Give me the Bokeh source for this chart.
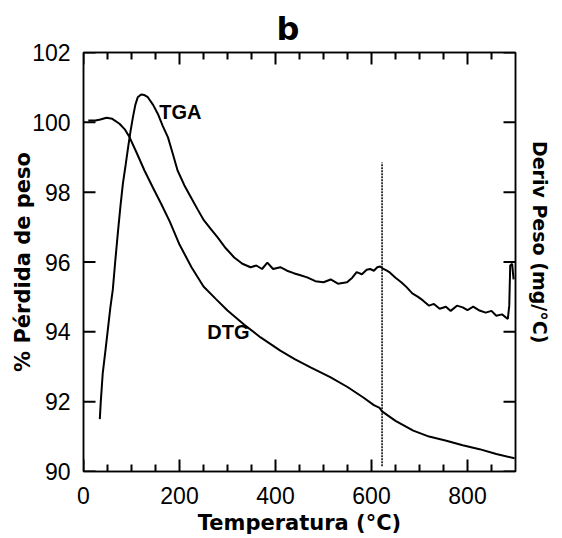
from bokeh.plotting import figure
from bokeh.models import (Range1d, LinearAxis, FixedTicker, Label, Title,
                          CustomJSTickFormatter)
from bokeh.embed import file_html
from bokeh.resources import INLINE

# ---- data ----
tga_x = [34, 36, 40, 46, 51, 56, 61, 66, 72, 77, 82, 88, 93, 98, 103, 108, 113,
         120, 127, 134, 145, 155, 165, 176, 186, 196, 210, 224, 238, 251, 265,
         279, 296, 314, 331, 348, 360, 372, 383, 395, 410, 424, 438, 452, 466,
         483, 500, 515, 530, 549, 560, 569, 580, 590, 597, 605, 612, 618, 625,
         632, 638, 650, 662, 673, 685, 697, 707, 720, 730, 742, 755, 765, 778,
         790, 800, 812, 825, 838, 850, 860, 872, 884, 887, 889, 893, 896]
tga_y = [91.5, 92.0, 92.8, 93.5, 94.1, 94.7, 95.2, 96.0, 96.9, 97.6, 98.24,
         98.8, 99.29, 99.75, 100.15, 100.5, 100.72, 100.8, 100.78, 100.72,
         100.5, 100.24, 99.9, 99.57, 99.1, 98.62, 98.2, 97.85, 97.5, 97.19,
         96.95, 96.71, 96.4, 96.13, 95.95, 95.85, 95.9, 95.8, 95.98, 95.8,
         95.85, 95.75, 95.68, 95.62, 95.56, 95.45, 95.42, 95.5, 95.38, 95.42,
         95.55, 95.71, 95.65, 95.78, 95.8, 95.75, 95.85, 95.87, 95.8, 95.75,
         95.7, 95.55, 95.42, 95.28, 95.1, 95.0, 94.9, 94.75, 94.8, 94.66,
         94.72, 94.6, 94.75, 94.7, 94.62, 94.72, 94.61, 94.55, 94.6, 94.46,
         94.5, 94.37, 94.75, 95.9, 95.95, 95.5]

dtg_x = [10, 25, 35, 48, 60, 75, 86, 96, 110, 127, 145, 162, 180, 200, 225,
         250, 275, 300, 335, 369, 410, 440, 473, 514, 550, 583, 605, 617, 622,
         650, 687, 720, 756, 790, 825, 860, 898]
dtg_y = [100.05, 100.05, 100.08, 100.13, 100.1, 99.96, 99.8, 99.57, 99.15,
         98.62, 98.12, 97.66, 97.15, 96.5, 95.85, 95.3, 94.95, 94.61, 94.2,
         93.84, 93.46, 93.22, 92.98, 92.7, 92.42, 92.12, 91.9, 91.82, 91.72,
         91.45, 91.17, 91.0, 90.88, 90.75, 90.64, 90.5, 90.38]

marker_x = [622, 622]
marker_y = [90.15, 98.85]

x_ticks = [0, 200, 400, 600, 800]
x_minor = [50, 100, 150, 250, 300, 350, 450, 500, 550, 650, 700, 750, 850]
y_ticks = [90, 92, 94, 96, 98, 100, 102]

FONT = "Liberation Sans"
BFONT = "DejaVu Sans"

X0, X1, Y0, Y1 = 0, 900, 90, 102
FW, FH = 432, 419

p = figure(frame_width=FW, frame_height=FH,
           min_border_left=83, min_border_right=45,
           min_border_top=52, min_border_bottom=65,
           x_range=Range1d(X0, X1), y_range=Range1d(Y0, Y1),
           output_backend="svg", toolbar_location=None,
           x_axis_location=None, y_axis_location=None)
p.grid.visible = False
p.outline_line_color = "black"
p.outline_line_width = 1.5
p.background_fill_color = "white"
p.border_fill_color = "white"

def style(ax, labels=True):
    ax.axis_line_width = 1.5
    ax.axis_line_color = "black"
    ax.major_tick_in = 0
    ax.major_tick_out = 0
    ax.minor_tick_in = 0
    ax.minor_tick_out = 0
    ax.major_label_text_font = FONT
    ax.major_label_text_font_size = "23px"
    ax.major_label_text_color = "black"
    ax.axis_label_text_color = "black"
    if not labels:
        ax.formatter = CustomJSTickFormatter(code="return ''")
        ax.major_label_standoff = 0

bx = LinearAxis(ticker=FixedTicker(ticks=x_ticks, minor_ticks=x_minor))
style(bx)
bx.major_label_standoff = 15
bx.axis_label = "Temperatura (°C)"
bx.axis_label_text_font = BFONT
bx.axis_label_text_font_style = "bold"
bx.axis_label_text_font_size = "21px"
bx.axis_label_standoff = 4
p.add_layout(bx, "below")

tx = LinearAxis(ticker=FixedTicker(ticks=x_ticks, minor_ticks=x_minor))
style(tx, labels=False)
p.add_layout(tx, "above")

ly = LinearAxis(ticker=FixedTicker(ticks=y_ticks))
style(ly)
ly.major_label_standoff = 13
ly.axis_label = "% Pérdida de peso"
ly.axis_label_text_font = BFONT
ly.axis_label_text_font_style = "bold"
ly.axis_label_text_font_size = "21px"
ly.axis_label_standoff = -6
p.add_layout(ly, "left")

ry = LinearAxis(ticker=FixedTicker(ticks=y_ticks))
style(ry, labels=False)
ry.axis_label = "Deriv Peso (mg/°C)" + "\u00a0" * 6
ry.axis_label_text_font = BFONT
ry.axis_label_text_font_style = "bold"
ry.axis_label_text_font_size = "19px"
ry.axis_label_standoff = 13
p.add_layout(ry, "right")

p.title = Title(text="b", align="left", text_font=BFONT,
                text_font_size="32px", text_font_style="bold", offset=193,
                text_color="black")

# inward tick marks drawn as glyphs (pixel lengths converted to data units)
ux = (X1 - X0) / FW
uy = (Y1 - Y0) / FH
MAJ, MIN = 12, 7
tick_xs, tick_ys = [], []
for t in x_ticks:
    tick_xs += [[t, t], [t, t]]
    tick_ys += [[Y0, Y0 + MAJ * uy], [Y1, Y1 - MAJ * uy]]
for t in x_minor:
    tick_xs += [[t, t], [t, t]]
    tick_ys += [[Y0, Y0 + MIN * uy], [Y1, Y1 - MIN * uy]]
for t in y_ticks:
    tick_xs += [[X0, X0 + MAJ * ux], [X1, X1 - MAJ * ux]]
    tick_ys += [[t, t], [t, t]]
p.multi_line(tick_xs, tick_ys, line_color="black", line_width=2)

p.line(tga_x, tga_y, line_color="black", line_width=2)
p.line(dtg_x, dtg_y, line_color="black", line_width=2)
p.line(marker_x, marker_y, line_color="black", line_width=1.5, line_dash="2 1")

for txt, x, y in [("TGA", 158, 100.29), ("DTG", 258, 93.99)]:
    p.add_layout(Label(x=x, y=y, text=txt, text_font=FONT, text_font_style="bold",
                       text_font_size="20px", text_baseline="middle",
                       text_align="left", text_color="black"))

open("out.html", "w").write(file_html(p, INLINE))
